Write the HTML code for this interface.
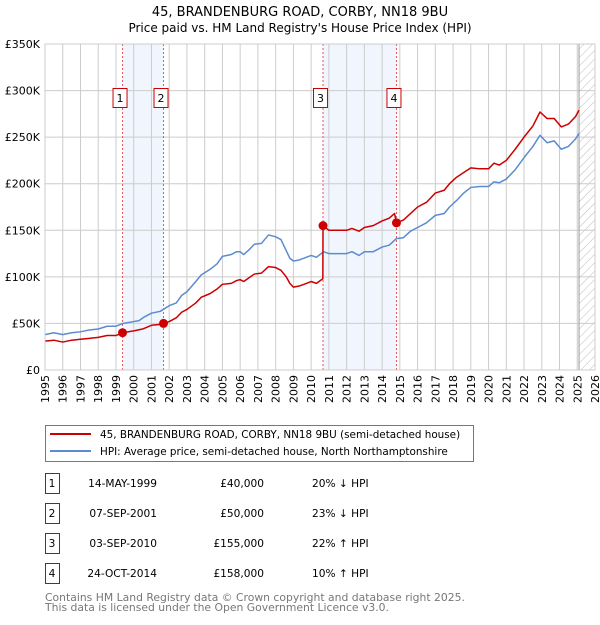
<!DOCTYPE html>
<html><head><meta charset="utf-8"><style>
body{margin:0;background:#fff;}
svg text{font-family:"DejaVu Sans","Liberation Sans",sans-serif;}
</style></head><body>
<svg id="chart" width="600" height="620" viewBox="0 0 600 620" xmlns="http://www.w3.org/2000/svg">
<defs><pattern id="hatch" patternUnits="userSpaceOnUse" width="6" height="6" patternTransform="rotate(45)"><line x1="0" y1="0" x2="0" y2="6" stroke="#bbb" stroke-width="1"/></pattern></defs>
<text x="300" y="16" text-anchor="middle" font-size="13">45, BRANDENBURG ROAD, CORBY, NN18 9BU</text>
<text x="300" y="32" text-anchor="middle" font-size="12">Price paid vs. HM Land Registry's House Price Index (HPI)</text>
<g id="plot"></g>
<g>
<rect x="45.5" y="425.5" width="428" height="36" fill="#fff" stroke="#777"/>
<line x1="50" y1="434" x2="91" y2="434" stroke="#cc0000" stroke-width="2"/>
<text x="100" y="438" font-size="10.4">45, BRANDENBURG ROAD, CORBY, NN18 9BU (semi-detached house)</text>
<line x1="50" y1="451" x2="91" y2="451" stroke="#5b8bd0" stroke-width="2"/>
<text x="100" y="455" font-size="10.4">HPI: Average price, semi-detached house, North Northamptonshire</text>
</g>
<g id="table"></g>
<text x="45" y="601" font-size="10.8" fill="#777">Contains HM Land Registry data © Crown copyright and database right 2025.</text>
<text x="45" y="611" font-size="10.8" fill="#777">This data is licensed under the Open Government Licence v3.0.</text>
</svg>
<script>
const hpiDates=[1995.0,1995.5,1996.0,1996.5,1997.0,1997.5,1998.0,1998.5,1999.0,1999.4,2000.0,2000.3,2000.6,2001.0,2001.5,2002.0,2002.4,2002.7,2003.0,2003.5,2003.8,2004.3,2004.7,2005.0,2005.5,2005.8,2006.0,2006.2,2006.5,2006.8,2007.2,2007.6,2008.0,2008.3,2008.6,2008.8,2009.0,2009.3,2009.6,2010.0,2010.3,2010.7,2011.0,2011.5,2012.0,2012.3,2012.7,2013.0,2013.5,2014.0,2014.4,2014.8,2015.2,2015.6,2016.0,2016.5,2017.0,2017.5,2017.8,2018.2,2018.6,2019.0,2019.5,2020.0,2020.3,2020.6,2021.0,2021.5,2022.0,2022.5,2022.9,2023.3,2023.7,2024.1,2024.5,2024.9,2025.1];
const hpiValues=[38,40,38,40,41,43,44,47,47,50,52,53,57,61,63,69,72,80,84,95,102,108,114,122,124,127,127,124,129,135,136,145,143,140,128,120,117,118,120,123,121,127,125,125,125,127,123,127,127,132,134,141,142,149,153,158,166,168,175,182,190,196,197,197,202,201,205,215,228,240,252,244,246,237,240,248,254];
const priceDates=[1995.0,1995.5,1996.0,1996.5,1997.0,1997.5,1998.0,1998.5,1999.0,1999.37,2000.0,2000.5,2001.0,2001.5,2001.68,2002.0,2002.4,2002.7,2003.0,2003.5,2003.8,2004.3,2004.7,2005.0,2005.5,2005.8,2006.0,2006.2,2006.5,2006.8,2007.2,2007.6,2008.0,2008.3,2008.6,2008.8,2009.0,2009.3,2009.6,2010.0,2010.3,2010.66,2010.67,2011.0,2011.5,2012.0,2012.3,2012.7,2013.0,2013.5,2014.0,2014.4,2014.7,2014.81,2015.2,2015.6,2016.0,2016.5,2017.0,2017.5,2017.8,2018.2,2018.6,2019.0,2019.5,2020.0,2020.3,2020.6,2021.0,2021.5,2022.0,2022.5,2022.9,2023.3,2023.7,2024.1,2024.5,2024.9,2025.1];
const priceValues=[31,32,30,32,33,34,35,37,37,40,42,44,48,49,50,52,56,62,65,72,78,82,87,92,93,96,97,95,99,103,104,111,110,107,100,93,89,90,92,95,93,98,155,150,150,150,152,149,153,155,160,163,168,158,161,168,175,180,190,193,200,207,212,217,216,216,222,220,225,237,250,262,277,270,270,261,264,272,279];
const saleDates=[1999.37,2001.68,2010.67,2014.81];
const salePrices=[40,50,155,158];
const saleLabels=["1","2","3","4"];
const saleDateText=["14-MAY-1999","07-SEP-2001","03-SEP-2010","24-OCT-2014"];
const salePriceText=["£40,000","£50,000","£155,000","£158,000"];
const saleHpiText=["20% ↓ HPI","23% ↓ HPI","22% ↑ HPI","10% ↑ HPI"];
const yTicks=[0,50,100,150,200,250,300,350];
const yTickLabels=["£0","£50K","£100K","£150K","£200K","£250K","£300K","£350K"];
const xTicks=[1995,1996,1997,1998,1999,2000,2001,2002,2003,2004,2005,2006,2007,2008,2009,2010,2011,2012,2013,2014,2015,2016,2017,2018,2019,2020,2021,2022,2023,2024,2025,2026];
const NS="http://www.w3.org/2000/svg";
const X0=45,X1=595,Y0=370,Y1=44;
const xs=d=>X0+(d-1995)/(2026-1995)*(X1-X0);
const ys=v=>Y0-v/350*(Y0-Y1);
const plot=document.getElementById('plot');
function mk(tag,attrs,parent){const e=document.createElementNS(NS,tag);for(const k in attrs)e.setAttribute(k,attrs[k]);(parent||plot).appendChild(e);return e;}
for(let i=0;i<saleDates.length;i+=2){
 const r=mk('rect',{x:xs(saleDates[i]),y:Y1,width:xs(saleDates[i+1])-xs(saleDates[i]),height:Y0-Y1,fill:'#eef3fc',opacity:0.8});
 
 
}
const hat=mk('rect',{x:xs(2025.1),y:Y1,width:X1-xs(2025.1),height:Y0-Y1,fill:'url(#hatch)'});


yTicks.forEach((t,i)=>{
 const l=mk('line',{x1:X0,x2:X1,y1:ys(t),y2:ys(t),stroke:'#ccc'});
 
 
 const tx=mk('text',{x:40,y:ys(t)+4,'text-anchor':'end','font-size':11});
 tx.textContent=yTickLabels[i];
 
 
});
xTicks.forEach(t=>{
 const l=mk('line',{x1:xs(t),x2:xs(t),y1:Y1,y2:Y0,stroke:'#ccc'});
 
 
 const g=mk('g',{transform:'translate('+(xs(t)+4)+',375) rotate(-90)'});
 const tx=mk('text',{x:0,y:0,'text-anchor':'end','font-size':11},g);
 tx.textContent=t;
 
 
});
const nowLine=mk('line',{x1:xs(2025.1),x2:xs(2025.1),y1:Y1,y2:Y0,stroke:'#999'});


saleDates.forEach((d,i)=>{
 const l=mk('line',{x1:xs(d),x2:xs(d),y1:Y1,y2:Y0,stroke:'#e55','stroke-dasharray':'2,2'});
 
 
 const b=mk('rect',{x:xs(d)-9.5,y:88.5,width:14,height:19,fill:'#fff',stroke:'#cc0000'});
 
 
 const t=mk('text',{x:xs(d)-2.5,y:102,'text-anchor':'middle','font-size':11});
 t.textContent=saleLabels[i];
 
 
});
function line(dates,vals,color,name){
 const p=mk('polyline',{points:dates.map((d,i)=>xs(d)+','+ys(vals[i])).join(' '),fill:'none',stroke:color,'stroke-width':1.5,'stroke-linejoin':'round'});
 
 
}
line(hpiDates,hpiValues,'#5b8bd0','hpi-line');
line(priceDates,priceValues,'#cc0000','price-paid-line');
saleDates.forEach((d,i)=>{
 const c=mk('circle',{cx:xs(d),cy:ys(salePrices[i]),r:4.5,fill:'#cc0000'});
 
 
});
mk('rect',{x:X0,y:Y1,width:X1-X0,height:Y0-Y1,fill:'none',stroke:'#ccc'});
const tb=document.getElementById('table');
saleLabels.forEach((s,i)=>{
 const cy=483+i*30;
 const b=mk('rect',{x:45.5,y:cy-9.5,width:14,height:20,fill:'#fff',stroke:'#cc0000'},tb);
 
 
 const cells=[[52,'middle',s,'table-sale-number'],[157,'end',saleDateText[i],'table-sale-date'],[264,'end',salePriceText[i],'table-sale-price'],[312,'start',saleHpiText[i],'table-hpi-change']];
 cells.forEach(c=>{
  const t=mk('text',{x:c[0],y:cy+4,'text-anchor':c[1],'font-size':10.6},tb);
  t.textContent=c[2];
  
  
 });
});
</script>
</body></html>
